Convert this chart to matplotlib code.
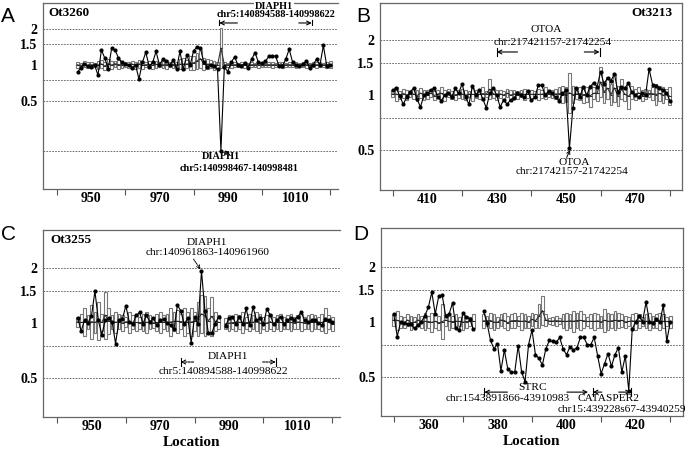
import numpy as np
import matplotlib.pyplot as plt
from matplotlib.patches import Rectangle
from matplotlib.ticker import NullLocator

plt.rcParams['font.family'] = ['Liberation Serif', 'DejaVu Serif']

nan = np.nan

# ---- panel A : Ot3260 ----
a_loc = np.arange(946, 1021)
a_ratio = [0.87, 0.95, 1.02, 0.98, 0.97, 1.0, 0.82, 1.34, 1.14, 0.93,
           1.38, 1.33, 1.15, 1.05, 1.02, 1.0, 0.95, 1.0, 0.76, 1.05,
           1.28, 0.97, 1.05, 1.3, 1.0, 1.12, 1.08, 1.0, 1.1, 0.93,
           1.3, 0.92, 1.22, 1.0, 1.32, 1.42, 1.38, 1.05, 0.97, 1.0,
           0.98, 0.92, 0.19, 0.96, 0.88, 1.05, 1.17, 1.0, 0.98, 1.03,
           0.95, 1.12, 1.27, 1.05, 1.03, 1.07, 1.18, 1.19, 1.19, 0.98,
           0.98, 1.12, 1.36, 1.05, 1.0, 0.98, 1.02, 1.08, 0.95, 1.0,
           1.12, 1.0, 1.46, 0.98, 1.0]
a_box_lo = [0.95, 0.93, 0.96, 0.94, 0.95, 0.97,
            0.92, 0.95, 0.9, 0.94, 0.93, 0.96, 0.92, 0.95, 0.97,
            0.94, 0.96, 0.93, 0.95, 0.92, 0.96, 0.94, 0.93, 0.95, 0.97, 0.94, 0.92, 0.96, 0.94, 0.95,
            0.92, 0.9, 0.94, 0.91, 0.9, 0.93, 0.95, 0.9, 0.92, 0.94, 0.91, 0.93,
            0.94,
            0.96, 0.97, 0.95, 0.96, 0.97, 0.96, 0.95, 0.97, 0.96, 0.97, 0.95, 0.96, 0.97, 0.96, 0.95, 0.97,
            0.96, 0.95, 0.97, 0.96, 0.96, 0.95, 0.97, 0.96, 0.95, 0.97, 0.96, 0.95, 0.96, 0.97, 0.95, 0.94]
a_box_hi = [1.06, 1.04, 1.07, 1.05, 1.06, 1.04,
            1.08, 1.1, 1.06, 1.12, 1.07, 1.09, 1.1, 1.06, 1.05,
            1.06, 1.08, 1.05, 1.1, 1.07, 1.05, 1.09, 1.06, 1.08, 1.05, 1.07, 1.1, 1.06, 1.08, 1.05,
            1.12, 1.15, 1.1, 1.18, 1.2, 1.25, 1.35, 1.15, 1.12, 1.1, 1.08, 1.06,
            2.05,
            1.05, 1.04, 1.06, 1.05, 1.04, 1.05, 1.06, 1.04, 1.05, 1.04, 1.06, 1.05, 1.04, 1.05, 1.06, 1.04,
            1.05, 1.06, 1.04, 1.05, 1.05, 1.06, 1.04, 1.05, 1.06, 1.04, 1.05, 1.06, 1.05, 1.04, 1.06, 1.07]

# ---- panel B : Ot3213 ----
b_loc = np.arange(400, 481)
b_ratio = [1.06, 1.09, 0.99, 0.89, 0.97, 1.04, 1.09, 0.95, 0.86, 1.0,
           1.02, 1.06, 1.09, 0.97, 0.93, 1.0, 1.02, 0.97, 1.09, 1.02,
           1.15, 0.97, 0.89, 1.12, 1.0, 1.06, 0.95, 0.85, 1.02, 1.09,
           1.0, 0.86, 0.94, 0.89, 0.94, 0.96, 1.02, 1.0, 0.97, 1.05,
           0.94, 0.97, 1.13, 1.13, 1.0, 1.05, 1.02, 0.97, 0.93, 1.02,
           1.06, 0.51, 0.85, 1.09, 0.98, 1.1, 1.0, 1.11, 1.17, 1.11,
           1.34, 1.15, 1.24, 1.2, 1.3, 1.04, 1.11, 1.09, 1.16, 1.04,
           1.0, 0.97, 1.02, 1.0, 1.39, 1.14, 1.12, 1.09, 1.06, 1.03, 0.93]
b_box_lo = [0.97, 0.93, 0.95, 0.96, 0.94, 0.97, 0.95, 0.93, 0.96, 0.94,
            0.95, 0.97, 0.94, 0.96, 0.95, 0.93, 0.97, 0.95, 0.94, 0.96,
            0.95, 0.94, 0.97, 0.93, 0.96, 0.95, 0.94, 0.97, 0.95, 0.96,
            0.94, 0.96, 0.95, 0.97, 0.94, 0.96, 0.95, 0.97, 0.94, 0.96,
            0.95, 0.97, 0.94, 0.96, 0.95, 0.97, 0.96, 0.95, 0.94, 0.9,
            0.92, 0.8, 0.9, 0.95, 0.94, 0.9, 0.92, 0.86, 0.95, 0.93,
            0.98, 0.9, 0.95, 0.88, 0.92, 0.87, 0.95, 0.93, 0.84, 0.95,
            0.94, 0.96, 0.93, 0.95, 0.97, 0.94, 0.88, 0.93, 0.9, 0.95, 0.88]
b_box_hi = [1.06, 1.1, 1.05, 1.08, 1.07, 1.05, 1.08, 1.06, 1.09, 1.07,
            1.06, 1.08, 1.05, 1.07, 1.1, 1.06, 1.08, 1.05, 1.07, 1.06,
            1.08, 1.06, 1.05, 1.09, 1.06, 1.07, 1.1, 1.05, 1.22, 1.08,
            1.06, 1.07, 1.05, 1.08, 1.06, 1.07, 1.05, 1.06, 1.08, 1.06,
            1.07, 1.05, 1.08, 1.06, 1.1, 1.07, 1.06, 1.08, 1.1, 1.12,
            1.1, 1.32, 1.12, 1.08, 1.1, 1.12, 1.1, 1.14, 1.1, 1.12,
            1.42, 1.2, 1.25, 1.15, 1.3, 1.12, 1.22, 1.1, 1.15, 1.12,
            1.08, 1.1, 1.06, 1.08, 1.07, 1.1, 1.15, 1.12, 1.1, 1.08, 1.1]

# ---- panel C : Ot3255 (no probe at 988) ----
c_loc = np.arange(946, 1021)
c_ratio = [1.06, 0.90, 1.04, 1.0, 1.09, 1.49, 1.03, 0.86, 1.03, 1.06,
           1.01, 0.77, 1.03, 1.05, 1.24, 1.01, 0.98, 1.1, 1.14, 0.99,
           1.1, 1.01, 1.06, 0.97, 1.03, 1.05, 1.0, 0.97, 0.92, 1.25,
           1.16, 0.98, 1.06, 0.78, 1.08, 0.98, 1.92, 1.16, 0.88, 0.88,
           0.99, 1.08, nan,
           0.96, 1.06, 1.08, 0.99, 1.08, 0.98, 1.2, 0.97, 1.22, 1.03,
           1.06, 0.98, 1.19, 1.1, 0.98, 1.03, 1.08, 0.98, 1.03, 1.06,
           1.04, 1.08, 1.14, 1.03, 1.01, 1.03, 1.04, 1.0, 0.97, 1.05,
           1.03, 1.01]
c_box_lo = [0.95, 0.9, 0.85, 0.92, 0.82, 0.88, 0.8, 0.9, 0.82, 0.87,
            0.93, 0.88, 0.92, 0.9, 0.95, 0.88, 0.92, 0.9, 0.93, 0.9,
            0.88, 0.92, 0.94, 0.9, 0.88, 0.92, 0.9, 0.85, 0.9, 0.88,
            0.92, 0.85, 0.88, 0.85, 0.9, 0.85, 0.88, 0.85, 0.88, 0.85,
            0.9, 0.92, nan,
            0.92, 0.9, 0.93, 0.9, 0.92, 0.88, 0.93, 0.9, 0.92, 0.9,
            0.88, 0.93, 0.9, 0.92, 0.9, 0.93, 0.9, 0.92, 0.93, 0.9,
            0.92, 0.93, 0.9, 0.92, 0.93, 0.9, 0.92, 0.93, 0.9, 0.88,
            0.92, 0.9]
c_box_hi = [1.08, 1.12, 1.2, 1.1, 1.25, 1.15, 1.3, 1.12, 1.48, 1.2,
            1.1, 1.15, 1.12, 1.1, 1.08, 1.15, 1.1, 1.12, 1.08, 1.12,
            1.15, 1.1, 1.06, 1.12, 1.15, 1.1, 1.12, 1.2, 1.15, 1.18,
            1.12, 1.2, 1.15, 1.2, 1.15, 1.3, 1.42, 1.4, 1.2, 1.38,
            1.15, 1.1, nan,
            1.06, 1.1, 1.08, 1.12, 1.1, 1.15, 1.08, 1.12, 1.1, 1.15,
            1.12, 1.08, 1.1, 1.12, 1.08, 1.1, 1.12, 1.08, 1.1, 1.12,
            1.08, 1.1, 1.12, 1.08, 1.1, 1.12, 1.1, 1.08, 1.12, 1.2,
            1.1, 1.08]

# ---- panel D : no name (gap at 374-375) ----
d_loc = np.arange(350, 431)
d_ratio = [1.1, 0.83, 1.0, 0.98, 0.97, 0.97, 0.92, 0.96, 1.0, 1.08,
           1.2, 1.45, 1.1, 1.38, 1.4, 1.08, 1.1, 1.27, 0.92, 0.9,
           1.12, 1.06, 1.04, 0.91, nan, nan,
           1.14, 0.98, 0.79, 0.71, 0.76, 0.54, 0.7, 0.55, 0.53, 0.53,
           0.74, 0.53, 0.47, 0.75, 0.9, 0.66, 0.63, 0.58, 0.71, 0.79,
           0.78, 0.77, 0.82, 0.71, 0.66, 0.73, 0.7, 0.72, 0.82, 0.82,
           0.75, 0.75, 0.82, 0.65, 0.52, 0.59, 0.67, 0.57, 0.66, 0.72,
           0.53, 0.65, 0.42, 0.91, 1.0, 1.07, 1.0, 1.28, 1.0, 0.98,
           1.03, 1.0, 1.23, 0.78, 1.0]
d_box_lo = [0.95, 0.9, 0.93, 0.92, 0.95, 0.9, 0.93, 0.95, 0.92, 0.9,
            0.93, 0.88, 0.92, 0.9, 0.8, 0.95, 0.9, 0.93, 0.92, 0.95,
            0.9, 0.93, 0.95, 0.92, nan, nan,
            0.93, 0.95, 0.92, 0.9, 0.93, 0.95, 0.92, 0.9, 0.93, 0.92,
            0.95, 0.9, 0.93, 0.92, 0.95, 0.93, 0.92, 0.96, 0.95, 0.97,
            0.96, 0.95, 0.97, 0.92, 0.9, 0.93, 0.88, 0.92, 0.9, 0.93,
            0.95, 0.92, 0.9, 0.93, 0.92, 0.88, 0.9, 0.93, 0.9, 0.92,
            0.94, 0.92, 0.95, 0.93, 0.9, 0.93, 0.95, 0.92, 0.9, 0.92,
            0.93, 0.9, 0.92, 0.95, 0.93]
d_box_hi = [1.1, 1.15, 1.08, 1.06, 1.1, 1.08, 1.06, 1.1, 1.08, 1.12,
            1.08, 1.12, 1.1, 1.08, 1.25, 1.1, 1.12, 1.08, 1.1, 1.06,
            1.1, 1.08, 1.06, 1.1, nan, nan,
            1.1, 1.08, 1.12, 1.1, 1.06, 1.1, 1.12, 1.08, 1.1, 1.12,
            1.08, 1.12, 1.1, 1.08, 1.12, 1.1, 1.25, 1.38, 1.1, 1.05,
            1.06, 1.08, 1.05, 1.1, 1.12, 1.1, 1.15, 1.12, 1.15, 1.1,
            1.06, 1.1, 1.12, 1.1, 1.08, 1.18, 1.12, 1.1, 1.15, 1.12,
            1.1, 1.08, 1.06, 1.1, 1.12, 1.1, 1.06, 1.1, 1.12, 1.08,
            1.1, 1.12, 1.1, 1.06, 1.08]

y_ticks = [0.5, 1, 1.5, 2]
y_ticklabels = ['0.5', '1', '1.5', '2']

fig = plt.figure(figsize=(6.85, 4.5), dpi=100)
axA = fig.add_axes([0.0628, 0.58, 0.4307, 0.4133])
axB = fig.add_axes([0.5547, 0.5778, 0.4409, 0.4156])
axC = fig.add_axes([0.0628, 0.0733, 0.4336, 0.4156])
axD = fig.add_axes([0.5562, 0.0756, 0.4409, 0.4178])


def draw_panel(ax, loc, ratio, lo, hi, xlim, ylim, xmajor, xlabels, hlines):
    lo = np.array(lo, float)
    hi = np.array(hi, float)
    ratio = np.array(ratio, float)
    ok = ~np.isnan(lo)
    for x, l, h in zip(loc[ok], lo[ok], hi[ok]):
        ax.add_patch(Rectangle((x - 0.4, l), 0.8, h - l, facecolor='white',
                               edgecolor='#777777', lw=0.8, zorder=2))
    med = np.sqrt(lo * hi)
    ax.plot(loc, med, color='#333333', lw=0.8, zorder=3)
    ax.hlines(med[ok], loc[ok] - 0.4, loc[ok] + 0.4, color='#222222', lw=0.7, zorder=3)
    ax.plot(loc, ratio, '-o', color='black', lw=0.8, ms=2.0, zorder=4)
    for h in hlines:
        ax.axhline(h, color='#555555', lw=0.6, ls=(0, (2, 1.5)), zorder=1)
    ax.set_yscale('log', base=2)
    ax.set_xlim(*xlim)
    ax.set_ylim(*ylim)
    ax.set_yticks(y_ticks)
    ax.set_yticklabels(y_ticklabels)
    ax.yaxis.set_minor_locator(NullLocator())
    ax.set_xticks(xmajor)
    ax.set_xticklabels([''] * len(xmajor))
    ax.set_xticks([int(t) for t in xlabels], minor=True)
    ax.set_xticklabels(xlabels, minor=True)
    ax.tick_params(axis='x', which='major', length=4, width=0.8, color='#555555')
    ax.tick_params(axis='x', which='minor', length=0, pad=2, labelsize=10)
    ax.tick_params(axis='y', length=0, pad=4, labelsize=10)
    for lbl in ax.get_xticklabels(minor=True) + ax.get_yticklabels():
        lbl.set_fontweight('bold')
    for s in ax.spines.values():
        s.set_color('#666666')
        s.set_linewidth(0.9)


def bracket(ax, bar_x, start_x, y, ls='-', bar=True):
    ax.annotate('', xy=(bar_x, y), xytext=(start_x, y),
                arrowprops=dict(arrowstyle='->', lw=0.8, color='black', ls=ls,
                                shrinkA=0, shrinkB=0, mutation_scale=7))
    if bar:
        ax.plot([bar_x, bar_x], [y / 1.05, y * 1.05], color='black', lw=0.8)


draw_panel(axA, a_loc, a_ratio, a_box_lo, a_box_hi, (935.9, 1022.3), (0.09, 3.33),
           [940, 960, 980, 1000, 1020], ['950', '970', '990', '1010'],
           [2, 1.5, 0.75, 0.5, 0.19])
draw_panel(axB, b_loc, b_ratio, b_box_lo, b_box_hi, (396.3, 483.5), (0.302, 3.19),
           [400, 420, 440, 460, 480], ['410', '430', '450', '470'],
           [2, 1.5, 0.75, 0.5])
draw_panel(axC, c_loc, c_ratio, c_box_lo, c_box_hi, (935.9, 1022.3), (0.305, 3.22),
           [940, 960, 980, 1000, 1020], ['950', '970', '990', '1010'],
           [2, 1.5, 0.75, 0.5])
draw_panel(axD, d_loc, d_ratio, d_box_lo, d_box_hi, (346.3, 433.7), (0.305, 3.26),
           [350, 370, 390, 410, 430], ['360', '380', '400', '420'],
           [2, 1.5, 0.75, 0.5])
axA.spines['right'].set_visible(False)
axC.spines['right'].set_visible(False)

for ax in (axC, axD):
    ax.set_xlabel('Location', fontsize=11, fontweight='bold', labelpad=2)

# sample names
axA.text(0.017, 0.946, 'Ot3260', transform=axA.transAxes, fontsize=9.5,
         fontweight='bold', va='center', ha='left')
axB.text(0.97, 0.947, 'Ot3213', transform=axB.transAxes, fontsize=9.5,
         fontweight='bold', va='center', ha='right')
axC.text(0.024, 0.947, 'Ot3255', transform=axC.transAxes, fontsize=9.5,
         fontweight='bold', va='center', ha='left')

# panel letters
for letter, x, y in [('A', 0.002, 0.985), ('B', 0.52, 0.985),
                     ('C', 0.002, 0.5), ('D', 0.515, 0.5)]:
    fig.text(x, y, letter, fontsize=15, family=['Liberation Sans', 'DejaVu Sans'],
             va='top', ha='left')

# annotations A
bb = dict(facecolor='white', edgecolor='none', pad=0.5)
axA.text(1003.6, 3.14, 'DIAPH1', ha='center', va='center', fontsize=7.4,
         fontweight='bold', bbox=bb, zorder=6, clip_on=False)
axA.text(1004.1, 2.64, 'chr5:140894588-140998622', ha='center', va='center',
         fontsize=7.4, fontweight='bold', zorder=6)
bracket(axA, 987.5, 992.8, 2.26)
bracket(axA, 1014.6, 1010.8, 2.26)
axA.text(988.1, 0.168, 'DIAPH1', ha='center', va='center', fontsize=7.4, fontweight='bold')
axA.text(993.4, 0.135, 'chr5:140998467-140998481', ha='center', va='center',
         fontsize=7.4, fontweight='bold')
axA.annotate('', xy=(989.0, 0.19), xytext=(990.6, 0.175),
             arrowprops=dict(arrowstyle='->', lw=0.7, shrinkA=0, shrinkB=0, mutation_scale=6))

# annotations B
axB.text(444.4, 2.27, 'OTOA', ha='center', va='center', fontsize=8.2)
axB.text(446.1, 1.93, 'chr:217421157-21742254', ha='center', va='center', fontsize=8.2)
bracket(axB, 430, 436, 1.72)
bracket(axB, 459.7, 455.3, 1.72)
axB.text(452.4, 0.425, 'OTOA', ha='center', va='center', fontsize=8.2)
axB.text(451.9, 0.379, 'chr:21742157-21742254', ha='center', va='center', fontsize=8.2)
axB.annotate('', xy=(451.2, 0.5), xytext=(450.2, 0.455),
             arrowprops=dict(arrowstyle='->', lw=0.7, shrinkA=0, shrinkB=0, mutation_scale=6))

# annotations C
axC.text(983.7, 2.76, 'DIAPH1', ha='center', va='center', fontsize=8.2)
axC.text(983.7, 2.41, 'chr:140961863-140961960', ha='center', va='center', fontsize=8.2)
axC.annotate('', xy=(981.7, 1.96), xytext=(979.7, 2.23),
             arrowprops=dict(arrowstyle='->', lw=0.7, ls=(0, (1.5, 1)), shrinkA=0,
                             shrinkB=0, mutation_scale=6))
axC.text(989.6, 0.65, 'DIAPH1', ha='center', va='center', fontsize=8.2)
axC.text(988.4, 0.544, 'chr5:140894588-140998622', ha='center', va='center', fontsize=8.2)
bracket(axC, 975.9, 979.7, 0.61, ls=(0, (2, 1)))
bracket(axC, 1003.6, 999.8, 0.61, ls=(0, (2, 1)))

# annotations D
axD.text(390.1, 0.434, 'STRC', ha='center', va='center', fontsize=8.2)
axD.text(382.9, 0.378, 'chr:1543891866-43910983', ha='center', va='center', fontsize=8.2)
bracket(axD, 376.2, 382.9, 0.412)
bracket(axD, 406.2, 400.1, 0.412, bar=False)
axD.text(412.2, 0.378, 'CATASPER2', ha='center', va='center', fontsize=8.2)
axD.text(416.0, 0.329, 'chr15:439228s67-43940259', ha='center', va='center', fontsize=8.2)
bracket(axD, 407.6, 410.2, 0.412)
bracket(axD, 418.6, 415.1, 0.412)

fig.savefig('out.png', dpi=100)
